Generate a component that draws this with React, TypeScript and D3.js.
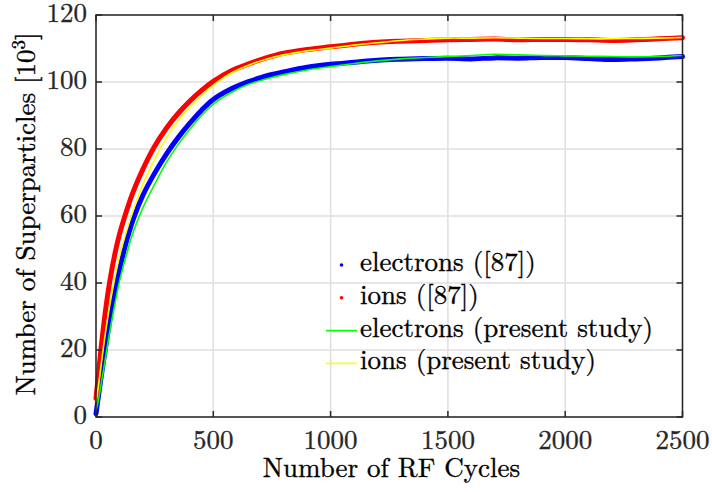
import * as d3 from "d3";
import React from "react";

// RF cycle sample positions shared by all series
const cycles = [
  0, 10, 20, 40, 60, 80, 100, 130, 160, 200, 250, 300, 350, 400, 450, 500, 575, 650, 725, 800,
  900, 1000, 1100, 1200, 1300, 1400, 1500, 1600, 1700, 1800, 1900, 2000, 2100, 2200, 2300, 2400, 2500,
];

// superparticles [10^3]
const electrons87 = [
  1, 6, 11, 20.5, 29.5, 37.5, 44, 52.5, 59.3, 66.2, 72.8, 78.5, 83.4, 87.7, 91.6, 94.8, 97.9, 100.1, 101.8, 103,
  104.4, 105.3, 105.9, 106.5, 106.8, 107, 107.1, 106.9, 107.2, 107.1, 107.3, 107.3, 107.0, 106.7, 106.9, 107.2, 107.6,
];
const ions87 = [
  5.5, 12.5, 19.5, 31.5, 41, 48.5, 54.5, 61.5, 67.5, 74, 80.8, 86.2, 90.6, 94.3, 97.5, 100.2, 103.3, 105.4, 107.2, 108.6,
  109.7, 110.5, 111.3, 111.9, 112.2, 112.4, 112.6, 112.7, 112.8, 112.6, 112.7, 112.7, 112.6, 112.4, 112.6, 112.9, 113.2,
];
const electronsPresent = [
  2, 5, 9, 17.5, 26, 33.5, 40.5, 48.5, 55.5, 62.5, 69.5, 76, 81.3, 85.9, 90, 93.4, 96.8, 99.3, 100.9, 102.2,
  103.6, 104.6, 105.5, 106.3, 106.9, 107.3, 107.6, 107.9, 108.3, 108.1, 107.9, 107.8, 107.7, 107.6, 107.5, 107.6, 107.9,
];
const ionsPresent = [
  4.5, 9, 14.5, 25, 34, 41.5, 48, 55.5, 62, 69.5, 77, 83.3, 88.4, 92.5, 96, 99, 102.6, 105, 106.8, 108.1,
  109.3, 110.1, 111, 111.7, 112.4, 112.8, 113.1, 113.1, 113.2, 113.1, 113, 113, 112.9, 112.9, 113, 113.1, 113.3,
];

const xTicks = [0, 500, 1000, 1500, 2000, 2500];
const yTicks = [0, 20, 40, 60, 80, 100, 120];

const legendItems = [
  { label: "electrons ([87])", color: "#0000ff", kind: "dot" },
  { label: "ions ([87])", color: "#ff0000", kind: "dot" },
  { label: "electrons (present study)", color: "#00ff00", kind: "line" },
  { label: "ions (present study)", color: "#ffff00", kind: "line" },
];

const FONT = "Latin Modern Roman";
const FS = 27;
const AXIS = "#262626";

export default function App(): React.ReactElement {
  const width = 712;
  const height = 492;
  const margin = { bottom: 75, left: 96, right: 29.5, top: 15 };
  const innerW = width - margin.left - margin.right;
  const innerH = height - margin.top - margin.bottom;

  const x = d3.scaleLinear().domain([0, 2500]).range([0, innerW]);
  const y = d3.scaleLinear().domain([0, 120]).range([innerH, 0]);

  const line = (vals: number[]) =>
    d3
      .line<number>()
      .x((_, i) => x(cycles[i]))
      .y((d) => y(d))
      .curve(d3.curveCatmullRom.alpha(0.5))(vals) ?? "";

  // slightly heavier text, like the rasterised LaTeX in the reference
  const textProps = { fontFamily: FONT, fontSize: FS, stroke: "currentColor", strokeWidth: 0.35 };

  return (
    <svg height={height} style={{ background: "#fff", left: 0, position: "absolute", top: 0 }} width={width}>
      <g transform={`translate(${margin.left},${margin.top})`}>
        {/* grid */}
        {xTicks.map((t) => (
          <line key={`gx-${t}`} stroke="#dfdfdf" strokeWidth={1.5} x1={x(t)} x2={x(t)} y1={0} y2={innerH} />
        ))}
        {yTicks.map((t) => (
          <line key={`gy-${t}`} stroke="#dfdfdf" strokeWidth={1.5} x1={0} x2={innerW} y1={y(t)} y2={y(t)} />
        ))}

        {/* [87] data: dense dots, drawn as thick bands */}
        <path d={line(electrons87)} fill="none" stroke="#0000ff" strokeLinecap="round" strokeWidth={5} />
        <path d={line(ions87)} fill="none" stroke="#ff0000" strokeLinecap="round" strokeWidth={5} />

        {/* present study */}
        <path d={line(electronsPresent)} fill="none" stroke="#00ff00" strokeWidth={1.6} />
        <path d={line(ionsPresent)} fill="none" stroke="#ffff00" strokeWidth={1.6} />

        {/* axes box */}
        <rect fill="none" height={innerH} stroke={AXIS} strokeWidth={1.5} width={innerW} x={0} y={0} />
        {xTicks.map((t) => (
          <g color={AXIS} key={`xt-${t}`} transform={`translate(${x(t)},0)`}>
            <line stroke={AXIS} strokeWidth={1.5} y1={innerH} y2={innerH - 6} />
            <line stroke={AXIS} strokeWidth={1.5} y1={0} y2={6} />
            <text fill={AXIS} {...textProps} textAnchor="middle" y={innerH + 32}>
              {t}
            </text>
          </g>
        ))}
        {yTicks.map((t) => (
          <g color={AXIS} key={`yt-${t}`} transform={`translate(0,${y(t)})`}>
            <line stroke={AXIS} strokeWidth={1.5} x1={0} x2={6} />
            <line stroke={AXIS} strokeWidth={1.5} x1={innerW} x2={innerW - 6} />
            <text fill={AXIS} {...textProps} textAnchor="end" x={-9} y={7}>
              {t}
            </text>
          </g>
        ))}

        {/* legend */}
        {legendItems.map((d, i) => {
          const ly = 256 + i * 32.8;
          return (
            <g color="#000" key={`leg-${d.label}`} transform={`translate(230,${ly})`}>
              {d.kind === "dot" ? (
                <circle cx={15.5} cy={-6} fill={d.color} r={1.8} />
              ) : (
                <line stroke={d.color} strokeWidth={1.6} x1={0} x2={31} y1={-6} y2={-6} />
              )}
              <text fill="#000" {...textProps} x={34} y={0}>
                {d.label}
              </text>
            </g>
          );
        })}
      </g>

      {/* axis titles */}
      <g color="#000">
        <text fill="#000" {...textProps} textAnchor="middle" x={391.5} y={477}>
          Number of RF Cycles
        </text>
        <text fill="#000" {...textProps} textAnchor="middle" transform="translate(35,214) rotate(-90)">
          Number of Superparticles [10
          <tspan dy={-10} fontSize={19}>
            3
          </tspan>
          <tspan dy={10}>]</tspan>
        </text>
      </g>
    </svg>
  );
}
